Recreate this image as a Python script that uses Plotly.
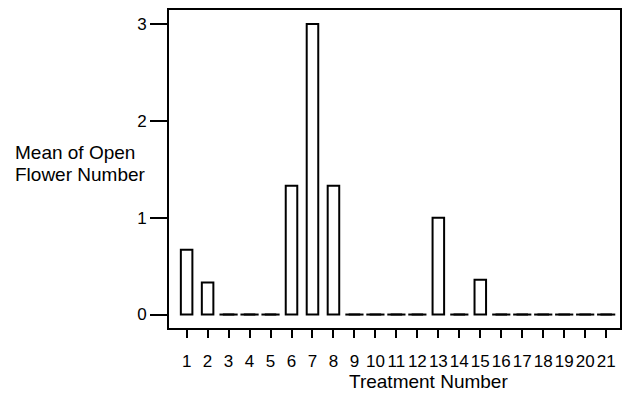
import plotly.graph_objects as go

treatments = list(range(1, 22))
mean_open_flowers = [0.67, 0.33, 0, 0, 0, 1.33, 3.0, 1.33, 0, 0, 0, 0, 1.0, 0, 0.36, 0, 0, 0, 0, 0, 0]
tick_labels = [str(t) for t in treatments]

zero_x = [t for t, v in zip(treatments, mean_open_flowers) if v == 0]
zero_y = [0 for _ in zero_x]

FONT = "Liberation Sans, Arial, Helvetica, sans-serif"

fig = go.Figure()
fig.add_trace(go.Bar(
    x=treatments, y=mean_open_flowers, width=0.55,
    marker=dict(color="white", line=dict(color="black", width=2)),
    showlegend=False, hoverinfo="x+y",
))
fig.add_trace(go.Scatter(
    x=zero_x, y=zero_y, mode="markers",
    marker=dict(symbol="line-ew", size=13, line=dict(color="black", width=2)),
    showlegend=False, hoverinfo="skip",
))

fig.update_layout(
    width=623, height=400,
    margin=dict(l=169, r=1, t=10, b=72),
    paper_bgcolor="white", plot_bgcolor="white",
    font=dict(family=FONT, color="black", size=17),
    xaxis=dict(
        range=[0.16, 21.66], tickmode="array", tickvals=treatments, ticktext=tick_labels,
        ticks="outside", ticklen=8, tickwidth=2, tickcolor="black",
        showline=True, linecolor="black", linewidth=2, mirror=True,
        showgrid=False, zeroline=False, ticklabelstandoff=9,
        tickfont=dict(size=17),
    ),
    yaxis=dict(
        range=[-0.139, 3.145], tickmode="array", tickvals=[0, 1, 2, 3],
        ticks="outside", ticklen=17, tickwidth=2, tickcolor="black",
        showline=True, linecolor="black", linewidth=2, mirror=True,
        showgrid=False, zeroline=False, ticklabelstandoff=0,
        tickfont=dict(size=17),
    ),
    annotations=[
        dict(text="Mean of Open", xref="paper", yref="paper", x=(12 - 169) / 453, y=1 - (152 - 10) / 318,
             xanchor="left", yanchor="middle", showarrow=False, font=dict(size=19)),
        dict(text="Flower Number", xref="paper", yref="paper", x=(12 - 169) / 453, y=1 - (174 - 10) / 318,
             xanchor="left", yanchor="middle", showarrow=False, font=dict(size=19)),
        dict(text="Treatment Number", xref="paper", yref="paper", x=(430 - 169) / 453, y=1 - (381 - 10) / 318,
             xanchor="center", yanchor="middle", showarrow=False, font=dict(size=19)),
    ],
)

fig.write_html("out.html")
